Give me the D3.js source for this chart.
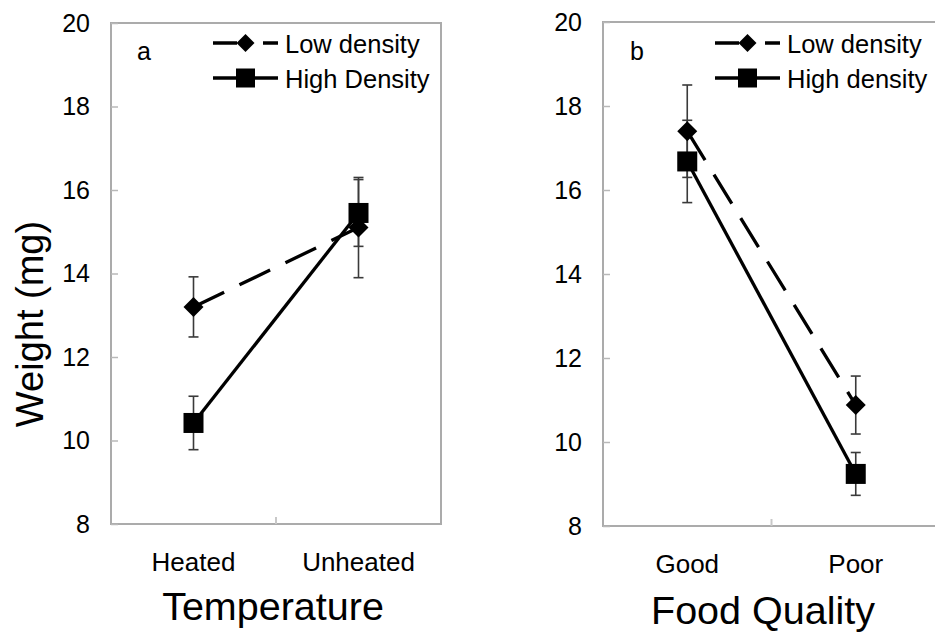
<!DOCTYPE html>
<html>
<head>
<meta charset="utf-8">
<script src="https://cdn.jsdelivr.net/npm/d3@7"></script>
<style>
  body { margin: 0; background: #fff; }
  svg { display: block; font-family: "Liberation Sans", Arial, sans-serif; }
</style>
</head>
<body>
<svg id="chart" width="935" height="635"></svg>
<script>
// data
var yTicks = [8, 10, 12, 14, 16, 18, 20];

var tempCategories = ["Heated", "Unheated"];
var tempSeriesNames = ["Low density", "High Density"];
var tempLow = [13.2, 15.1];
var tempLowErr = [0.72, 1.2];
var tempHigh = [10.42, 15.45];
var tempHighErr = [0.64, 0.8];

var foodCategories = ["Good", "Poor"];
var foodSeriesNames = ["Low density", "High density"];
var foodLow = [17.4, 10.88];
var foodLowErr = [1.1, 0.69];
var foodHigh = [16.68, 9.24];
var foodHighErr = [0.98, 0.51];

var svg = d3.select("#chart");
svg.append("rect").attr("width", 935).attr("height", 635).attr("fill", "#fff");

function diamond(cx, cy, r) {
  return "M" + cx + "," + (cy - r) + "L" + (cx + r) + "," + cy +
         "L" + cx + "," + (cy + r) + "L" + (cx - r) + "," + cy + "Z";
}

function drawPanel(p) {
  var g = svg.append("g");

  var x = d3.scaleBand().domain(p.categories).range([p.left, p.right]).padding(0);
  var y = d3.scaleLinear().domain([8, 20]).range([p.bottom, p.top]);
  var cx = function(c) { return x(c) + x.bandwidth() / 2; };

  // frame
  g.append("rect")
    .attr("x", p.left).attr("y", p.top)
    .attr("width", p.right - p.left).attr("height", p.bottom - p.top)
    .attr("fill", "none").attr("stroke", "#ababab").attr("stroke-width", 2);

  // y axis
  var yAxis = g.append("g")
    .attr("transform", "translate(" + p.left + ",0)")
    .call(d3.axisLeft(y).tickValues(yTicks).tickSize(-7).tickPadding(21));
  yAxis.select(".domain").remove();
  yAxis.selectAll(".tick line").attr("stroke", "#b8b8b8").attr("stroke-width", 1.5);
  yAxis.selectAll(".tick text")
    .attr("font-size", 25).attr("fill", "#000")
    .attr("font-family", "Liberation Sans, Arial, sans-serif");

  // x axis
  var xAxis = g.append("g")
    .attr("transform", "translate(0," + p.bottom + ")")
    .call(d3.axisBottom(x).tickSize(0).tickPadding(29));
  xAxis.select(".domain").remove();
  xAxis.selectAll(".tick text")
    .attr("font-size", 26).attr("fill", "#000")
    .attr("font-family", "Liberation Sans, Arial, sans-serif");

  // category separator tick
  g.append("line")
    .attr("x1", x(p.categories[1])).attr("x2", x(p.categories[1]))
    .attr("y1", p.bottom).attr("y2", p.bottom - 7)
    .attr("stroke", "#c8c8c8").attr("stroke-width", 2);

  // axis title
  g.append("text")
    .attr("x", p.titleX).attr("y", p.titleY)
    .attr("text-anchor", "middle").attr("font-size", 39.5)
    .text(p.xTitle);

  // panel letter
  g.append("text")
    .attr("x", p.letterX).attr("y", 60)
    .attr("font-size", 25)
    .text(p.letter);

  var series = [
    { vals: p.low, err: p.lowErr, dash: "34,17", shape: "diamond" },
    { vals: p.high, err: p.highErr, dash: null, shape: "square" }
  ];

  // error bars
  series.forEach(function(s) {
    p.categories.forEach(function(c, i) {
      var xc = cx(c);
      var y1 = y(s.vals[i] + s.err[i]), y2 = y(s.vals[i] - s.err[i]);
      g.append("line").attr("x1", xc).attr("x2", xc).attr("y1", y1).attr("y2", y2)
        .attr("stroke", "#3a3a3a").attr("stroke-width", 1.6);
      [y1, y2].forEach(function(yy) {
        g.append("line").attr("x1", xc - 5).attr("x2", xc + 5).attr("y1", yy).attr("y2", yy)
          .attr("stroke", "#3a3a3a").attr("stroke-width", 1.6);
      });
    });
  });

  // lines
  var line = d3.line().x(function(d) { return cx(d.c); }).y(function(d) { return y(d.v); });
  series.forEach(function(s) {
    var pts = p.categories.map(function(c, i) { return { c: c, v: s.vals[i] }; });
    g.append("path").attr("d", line(pts))
      .attr("fill", "none").attr("stroke", "#000").attr("stroke-width", 3.3)
      .attr("stroke-dasharray", s.dash);
  });

  // markers
  series.slice().reverse().forEach(function(s) {
    p.categories.forEach(function(c, i) {
      if (s.shape === "diamond") {
        g.append("path").attr("d", diamond(cx(c), y(s.vals[i]), 10)).attr("fill", "#000");
      } else {
        g.append("rect").attr("x", cx(c) - 10).attr("y", y(s.vals[i]) - 10)
          .attr("width", 20).attr("height", 20).attr("fill", "#000");
      }
    });
  });

  // legend
  var lx0 = p.legendX, lx1 = p.legendX + 65, lm = (lx0 + lx1) / 2;
  var ly = [43, 78];
  g.append("line").attr("x1", lx0).attr("x2", lx1).attr("y1", ly[0]).attr("y2", ly[0])
    .attr("stroke", "#000").attr("stroke-width", 3.3).attr("stroke-dasharray", "24,26");
  g.append("path").attr("d", diamond(lm, ly[0], 9)).attr("fill", "#000");
  g.append("line").attr("x1", lx0).attr("x2", lx1).attr("y1", ly[1]).attr("y2", ly[1])
    .attr("stroke", "#000").attr("stroke-width", 3.3);
  g.append("rect").attr("x", lm - 9.5).attr("y", ly[1] - 9.5)
    .attr("width", 19).attr("height", 19).attr("fill", "#000");
  p.names.forEach(function(n, i) {
    g.append("text").attr("x", lx1 + 7).attr("y", ly[i] + 10)
      .attr("font-size", 25.5).text(n);
  });
}

drawPanel({
  categories: tempCategories, names: tempSeriesNames,
  low: tempLow, lowErr: tempLowErr, high: tempHigh, highErr: tempHighErr,
  left: 111, right: 441, top: 23, bottom: 524,
  xTitle: "Temperature", titleX: 273, titleY: 620,
  letter: "a", letterX: 137, legendX: 213
});

drawPanel({
  categories: foodCategories, names: foodSeriesNames,
  low: foodLow, lowErr: foodLowErr, high: foodHigh, highErr: foodHighErr,
  left: 603, right: 940, top: 22, bottom: 526,
  xTitle: "Food Quality", titleX: 763, titleY: 624,
  letter: "b", letterX: 630, legendX: 715
});

// shared y title
svg.append("text")
  .attr("transform", "translate(43,324) rotate(-90)")
  .attr("text-anchor", "middle").attr("font-size", 38)
  .text("Weight (mg)");
</script>
</body>
</html>
